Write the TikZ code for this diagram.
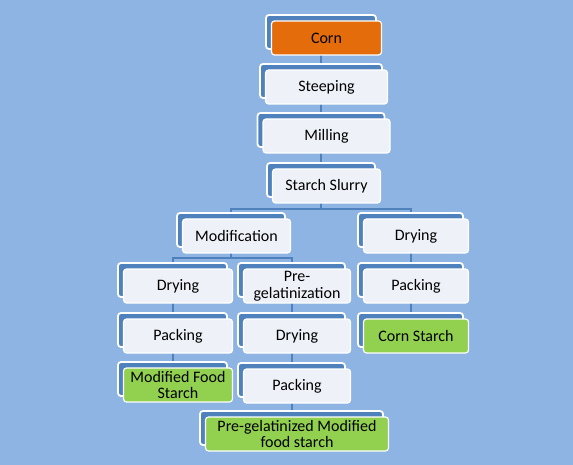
\documentclass[tikz,border=0pt]{standalone}
\usepackage{fontspec}
\setmainfont{Carlito}
\usetikzlibrary{calc, positioning}
\usetikzlibrary{backgrounds}

\definecolor{bgblue}{RGB}{141,180,226}
\definecolor{backblue}{RGB}{79,129,189}
\definecolor{frontgray}{RGB}{238,242,248}
\definecolor{cornorange}{RGB}{228,108,10}
\definecolor{starchgreen}{RGB}{146,208,80}

\tikzset{
  backbox/.style={draw=white, line width=1.8pt, fill=backblue, rounded corners=3pt,
    minimum height=34pt, inner sep=0pt},
  frontbox/.style={draw=white, line width=1.2pt, fill=frontgray, rounded corners=3pt,
    minimum height=34pt, inner sep=1pt, align=center, text=black,
    font=\fontsize{16}{16.5}\selectfont},
  link/.style={draw=backblue, line width=2pt},
}

\begin{document}
\begin{tikzpicture}[x=1pt, y=-1pt]
\useasboundingbox (0,0) rectangle (573,465);

\def\dx{5.5}
\def\dy{6}

% main column
\node[backbox, minimum width=110] (corn) at (321,32) {};
\node[frontbox, minimum width=110, fill=cornorange] (corn-f) at ($(corn)+(\dx,\dy)$) {Corn};

\node[backbox, minimum width=122] (steep) at (321,81) {};
\node[frontbox, minimum width=122] (steep-f) at ($(steep)+(\dx,\dy)$) {Steeping};

\node[backbox, minimum width=127] (mill) at (321,130) {};
\node[frontbox, minimum width=127] (mill-f) at ($(mill)+(\dx,\dy)$) {Milling};

\node[backbox, minimum width=108] (slurry) at (321,180) {};
\node[frontbox, minimum width=108] (slurry-f) at ($(slurry)+(\dx,\dy)$) {Starch Slurry};

% modified branch
\node[backbox, minimum width=108] (modif) at (231,230) {};
\node[frontbox, minimum width=108] (modif-f) at ($(modif)+(\dx,\dy)$) {Modification};

\node[backbox, minimum width=109] (dryL) at (172.5,280) {};
\node[frontbox, minimum width=109] (dryL-f) at ($(dryL)+(\dx,\dy)$) {Drying};

\node[backbox, minimum width=109] (packL) at (172.5,330) {};
\node[frontbox, minimum width=109] (packL-f) at ($(packL)+(\dx,\dy)$) {Packing};

\node[backbox, minimum width=109] (mfs) at (172.5,379) {};
\node[frontbox, minimum width=109, fill=starchgreen] (mfs-f) at ($(mfs)+(\dx,\dy)$) {Modified Food\\Starch};

% pre-gelatinized branch
\node[backbox, minimum width=107] (pregel) at (291.5,280) {};
\node[frontbox, minimum width=107] (pregel-f) at ($(pregel)+(\dx,\dy)$) {Pre-\\gelatinization};

\node[backbox, minimum width=107] (dryM) at (291.5,330) {};
\node[frontbox, minimum width=107] (dryM-f) at ($(dryM)+(\dx,\dy)$) {Drying};

\node[backbox, minimum width=107] (packM) at (291.5,380) {};
\node[frontbox, minimum width=107] (packM-f) at ($(packM)+(\dx,\dy)$) {Packing};

\node[backbox, minimum width=183] (pgmfs) at (291.5,428) {};
\node[frontbox, minimum width=183, fill=starchgreen] (pgmfs-f) at ($(pgmfs)+(\dx,\dy)$) {Pre-gelatinized Modified\\food starch};

% native starch branch
\node[backbox, minimum width=105] (dryR) at (410.5,230) {};
\node[frontbox, minimum width=105] (dryR-f) at ($(dryR)+(\dx,\dy)$) {Drying};

\node[backbox, minimum width=105] (packR) at (410.5,280) {};
\node[frontbox, minimum width=105] (packR-f) at ($(packR)+(\dx,\dy)$) {Packing};

\node[backbox, minimum width=105] (cstarch) at (410.5,330) {};
\node[frontbox, minimum width=105, fill=starchgreen] (cstarch-f) at ($(cstarch)+(\dx,\dy)$) {Corn Starch};

\begin{pgfonlayer}{background}
\fill[bgblue] (0,0) rectangle (573,465);
\draw[link] (corn.south) -- (steep.north);
\draw[link] (steep.south) -- (mill.north);
\draw[link] (mill.south) -- (slurry.north);
\draw[link] (slurry.south) -- ++(0,11) -| (modif.north);
\draw[link] (slurry.south) -- ++(0,11) -| (dryR.north);
\draw[link] (modif.south) -- ++(0,10) -| (dryL.north);
\draw[link] (modif.south) -- ++(0,10) -| (pregel.north);
\draw[link] (dryL.south) -- (packL.north);
\draw[link] (packL.south) -- (mfs.north);
\draw[link] (pregel.south) -- (dryM.north);
\draw[link] (dryM.south) -- (packM.north);
\draw[link] (packM.south) -- (pgmfs.north);
\draw[link] (dryR.south) -- (packR.north);
\draw[link] (packR.south) -- (cstarch.north);
\end{pgfonlayer}
\end{tikzpicture}
\end{document}
